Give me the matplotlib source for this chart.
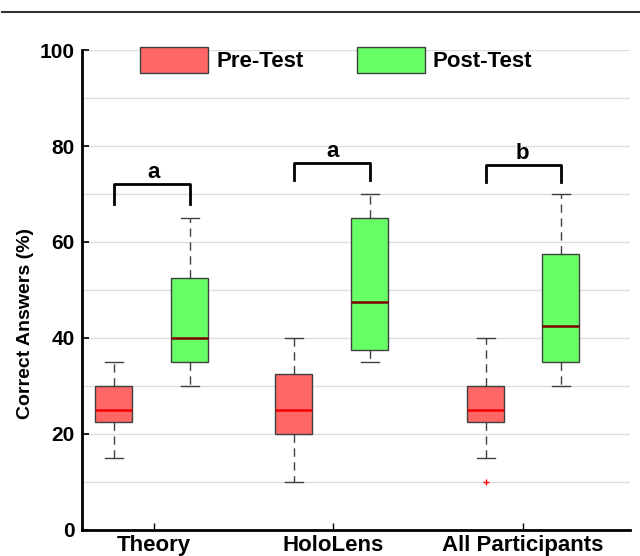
import matplotlib
matplotlib.use('Agg')
from matplotlib import pyplot as plt
from matplotlib.patches import Patch

plt.rcParams['font.family'] = ['Liberation Sans', 'DejaVu Sans']
plt.rcParams['font.weight'] = 'bold'

groups = ['Theory', 'HoloLens', 'All Participants']
sig_labels = ['a', 'a', 'b']

# per group: [pre, post]
medians = [[25, 40], [25, 47.5], [25, 42.5]]
q1 = [[22.5, 35], [20, 37.5], [22.5, 35]]
q3 = [[30, 52.5], [32.5, 65], [30, 57.5]]
whis_lo = [[15, 30], [10, 35], [15, 30]]
whis_hi = [[35, 65], [40, 70], [40, 70]]
fliers = [[[], []], [[], []], [[10], []]]

bracket_top = [72, 76.5, 76]
bracket_low = [68, 73, 72.5]

# layout (x in pixel-like units)
group_x = [72, 251, 441]
pre_x = [32, 212, 404]
post_x = [108, 288, 479]
box_w = 37

pre_color = '#ff6666'
post_color = '#66ff66'


def main():
    fig = plt.figure(figsize=(6.4, 5.56), dpi=100)
    ax = fig.add_axes([0.128, 0.047, 0.856, 0.863])

    for i in range(len(groups)):
        for j, (xpos, col, medc) in enumerate([(pre_x[i], pre_color, '#ee0000'),
                                               (post_x[i], post_color, '#7a0000')]):
            stats = [{'med': medians[i][j], 'q1': q1[i][j], 'q3': q3[i][j],
                      'whislo': whis_lo[i][j], 'whishi': whis_hi[i][j],
                      'fliers': fliers[i][j]}]
            ax.bxp(stats, positions=[xpos], widths=box_w, patch_artist=True,
                   capwidths=[box_w / 2], manage_ticks=False,
                   boxprops=dict(facecolor=col, edgecolor='#404040', linewidth=1.0),
                   medianprops=dict(color=medc, linewidth=1.8),
                   whiskerprops=dict(color='#404040', linestyle=(0, (6, 4)), linewidth=1.0),
                   capprops=dict(color='#404040', linewidth=1.0),
                   flierprops=dict(marker='+', markeredgecolor='red', markersize=5))
        # significance bracket
        ax.plot([pre_x[i], pre_x[i], post_x[i], post_x[i]],
                [bracket_low[i], bracket_top[i], bracket_top[i], bracket_low[i]],
                color='black', linewidth=2)
        ax.text(group_x[i], bracket_top[i] + 0.2, sig_labels[i], ha='center', va='bottom',
                fontsize=16, fontweight='bold')

    ax.set_xlim(0, 548)
    ax.set_ylim(0, 100)
    ax.set_xticks(group_x)
    ax.set_xticklabels(groups, fontsize=16, fontweight='bold')
    ax.set_yticks([0, 20, 40, 60, 80, 100])
    ax.set_yticks(range(0, 101, 10), minor=True)
    ax.tick_params(axis='y', labelsize=15, direction='in', length=5, width=1.2, pad=5)
    ax.tick_params(axis='y', which='minor', length=0)
    ax.tick_params(axis='x', direction='in', length=5, width=1, pad=4)
    for lab in ax.get_yticklabels():
        lab.set_fontweight('bold')
    ax.yaxis.grid(True, which='both', color='#dddddd', linewidth=1)
    ax.set_axisbelow(True)
    ax.set_ylabel('Correct Answers (%)', fontsize=14, fontweight='bold')
    ax.yaxis.set_label_coords(-0.087, 0.431)

    ax.spines['top'].set_visible(False)
    ax.spines['right'].set_visible(False)
    ax.spines['left'].set_linewidth(2)
    ax.spines['bottom'].set_linewidth(2)

    handles = [Patch(facecolor=pre_color, edgecolor='#404040', label='Pre-Test'),
               Patch(facecolor=post_color, edgecolor='#404040', label='Post-Test')]
    ax.legend(handles=handles, loc='upper left', bbox_to_anchor=(0.086, 1.030), ncol=2,
              frameon=False, borderpad=0, prop={'size': 16, 'weight': 'bold'},
              handlelength=3.06, handleheight=1.47, columnspacing=2.4, handletextpad=0.36)

    fig.add_artist(plt.Line2D([0.003, 1.0], [0.978, 0.978], color='#333333', linewidth=1.5))

    fig.savefig('out.png', dpi=100)


if __name__ == "__main__":
    main()
